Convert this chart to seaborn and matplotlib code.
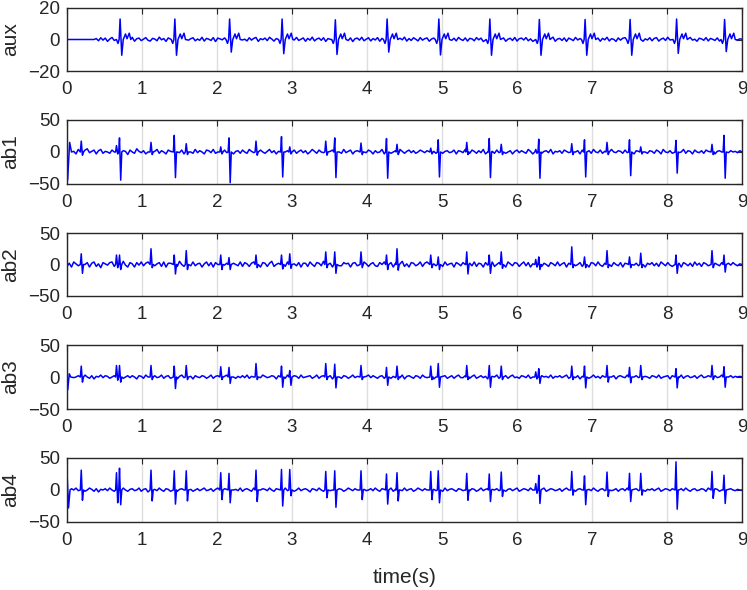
import numpy as np
import pandas as pd
import matplotlib
matplotlib.use("Agg")
import matplotlib.pyplot as plt
import seaborn as sns

# ---------------- data ----------------
channels = ["aux", "ab1", "ab2", "ab3", "ab4"]
y_limits = {"aux": 20, "ab1": 50, "ab2": 50, "ab3": 50, "ab4": 50}
x_ticks = [0, 1, 2, 3, 4, 5, 6, 7, 8, 9]

# maternal beat times (s)
maternal_t = [0.70, 1.43, 2.16, 2.86, 3.57, 4.26, 4.95, 5.63, 6.29, 6.90, 7.50, 8.12, 8.76]
# fetal beat times (s)
fetal_t = [0.19, 0.66, 1.12, 1.59, 2.05, 2.52, 2.97, 3.45, 3.92, 4.40, 4.85, 5.33, 5.79,
           6.25, 6.73, 7.20, 7.65, 8.60]

aux_m_up = [13, 13, 13, 13, 12.5, 13, 13, 13, 12.7, 12.7, 12.7, 13, 12.7]
aux_m_dn = [-10, -10, -8, -9, -9.5, -8, -9.8, -10, -10, -10, -10, -8.8, -7.7]
ab1_m_up = [22, 26, 22, 24, 22, 21, 19, 21, 20, 19, 19, 18, 26]
ab1_m_dn = [-44, -40, -48, -39, -40, -41, -39, -40, -41, -39, -37, -33, -41]
ab2_m_up = [15, 15, 11, 15, 20, 15, 12, 15, 12, 12, 12, 15, 15]
ab2_m_dn = [-8, -15, -8, -7, -14, -8, -8, -14, -8, -5, -5, -14, -12]
ab3_m_up = [18, 17, 15, 17, 20, 15, 21, 18, 13, 17, 15, 13, 16]
ab3_m_dn = [-8, -18, -10, -16, -17, -13, -16, -16, -10, -17, -9, -17, -16]
ab4_m_up = [34, 30, 26, 32, 30, 25, 30, 25, 23, 22, 26, 44, 23]
ab4_m_dn = [-23, -22, -20, -25, -27, -22, -20, -18, -21, -23, -18, -30, -21]

ab1_f_up = [17, 10, 15, 13, 8, 17, 8, 17, 14, 12, 6, 15, 12, 4, 13, 15, 8, 12]
ab1_f_dn = [-5, -3, -4, -4, -3, -5, -3, -5, -4, -4, -3, -4, -4, -2, -4, -4, -3, -4]
ab2_f_up = [17, 15, 25, 22, 15, 15, 17, 20, 20, 25, 15, 20, 20, 8, 28, 22, 18, 22]
ab2_f_dn = [-14, -5, -5, -8, -8, -5, -6, -5, -5, -9, -5, -15, -6, -4, -5, -5, -5, -5]
ab3_f_up = [17, 18, 18, 18, 16, 21, 10, 21, 18, 17, 17, 18, 17, 8, 17, 18, 18, 18]
ab3_f_dn = [-8, -5, -4, -4, -4, -4, -13, -4, -4, -4, -4, -4, -4, -3, -4, -8, -4, -4]
ab4_f_up = [31, 27, 31, 30, 27, 31, 32, 29, 30, 27, 29, 26, 28, 10, 29, 28, 26, 29]
ab4_f_dn = [-16, -20, -17, -17, -15, -18, -9, -12, -15, -17, -15, -16, -10, -5, -8, -10, -8, -13]

# onset transients at t = 0
ab1_start_t = [0.0, 0.008, 0.035, 0.06]
ab1_start_v = [0, -44, 15, 0]
ab3_start_t = [0.0, 0.01, 0.03, 0.05]
ab3_start_v = [-2, -20, 5, 0]
ab4_start_t = [0.0, 0.02, 0.04]
ab4_start_v = [28, -28, 0]

# baseline wiggle (equally spaced over 0..9 s)
aux_base = [0, 0, 0, 0, 0, 0, 0, 0, 0, 0, 0, 0, 0, 0.6, -0.8, 1.1, -0.4, 0.9, -1.2, 0.3,
            1.3, -0.6, 0.4, -1.0, 1.2, 0.2, -0.9, 0.8, -0.3, 1.4, -1.1, 0.5, 0.9, -0.7, 0.2, 1.2, -0.5, -1.0, 0.7, 0.3,
            -0.8, 1.5, -0.2, 0.6, -1.2, 1.0, 0.4, -0.6, 1.3, -0.9, 0.1, 0.8, -1.1, 1.2, -0.4, 0.5, 1.1, -0.8, 0.3, -0.5,
            1.4, -1.0, 0.7, 0.2, -0.6, 1.2, -1.3, 0.9, 0.4, -0.2, 1.0, -0.8, 1.3, -0.5, 0.6, -1.1, 0.8, 1.5, -0.3, 0.2,
            -0.9, 1.1, -0.4, 0.7, 1.3, -1.2, 0.5, -0.1, 0.9, -0.7, 1.4, 0.3, -1.0, 0.6, -0.5, 1.2, -0.8, 0.4, 1.0, -1.2,
            0.8, -0.3, 1.3, -0.6, 0.2, 1.0, -1.1, 0.7, -0.4, 1.5, -0.9, 0.3, 0.9, -0.5, 1.1, -1.2, 0.6, 0.1, -0.7, 1.3,
            -0.2, 0.8, -1.0, 1.2, 0.4, -0.6, 1.0, -1.3, 0.5, 0.9, -0.4, 1.4, -0.8, 0.2, 1.1, -0.9, 0.6, -0.3, 1.2, -1.1,
            0.7, 0.3, -0.8, 1.3, -0.5, 1.0, -1.2, 0.4, 0.8, -0.2, 1.5, -1.0, 0.6, -0.6, 1.1, 0.2, -0.9, 1.2, -0.4, 0.5,
            1.0, -1.1, 0.3, 0.9, -0.7, 1.4, -0.3, 0.6, -1.2, 1.1, 0.5, -0.5, 0.8, -0.9, 1.3, 0.1, -0.6, 1.0, -1.0, 0.7,
            0.4, -0.8, 1.2, -0.2, 0.9, -1.3, 0.6, 1.1, -0.5, 0.3, -0.9, 1.4, -0.4, 0.7, 1.0, -1.1, 0.2, 0.8, -0.6, 1.3,
            -1.0, 0.5, 0.9, -0.3, 1.2, -0.8, 0.4, -1.2, 1.1, 0.6, -0.5, 1.3, -0.9, 0.2, 0.8, -0.4, 1.5, -1.1, 0.3, 0.7,
            -0.6, 1.0, -1.2, 0.9, 0.2, -0.7, 1.3, -0.3, 0.6, -1.0, 1.1, 0.4, -0.8, 1.2, -0.5, 0.3, 0.9, -1.1, 0.7, -0.2,
            1.4, -0.9, 0.5, 0.1, -1.2, 1.0, -0.4, 0.8, 1.2, -0.7, 0.3, -1.0, 1.3, -0.5, 0.6, 0.9, -1.1, 0.4, -0.3, 1.1,
            -0.8, 0.7, 1.2, -1.0, 0.2, 0.9, -0.6, 1.4, -0.3, 0.5, -1.2, 1.0, 0.3, -0.7, 1.1, -0.9, 0.6, 1.3, -0.4, 0.2,
            -1.1, 0.8, 0.4, -0.5, 1.2, -0.9, 0.7, 0.1, -0.6, 1.0, -1.0, 0.5, 1.1, -0.4, 0.3, -0.8, 1.2, 0.6, -0.3, 0.4, 0.2]
ab1_base = [2, -2, 3, 1, -3, 4, 0, -2, 3, 5, -1, 1, 3, -3, 2, 4, -2, 1, 0, -2,
            3, 0, -3, 4, -1, 2, 1, -4, 3, 0, -2, 5, 1, -1, 2, -3, 0, 3, -2, 1,
            4, -2, 2, 0, -3, 3, 1, -2, 4, 0, -1, 3, -3, 1, 2, 0, -2, 4, -1, 2,
            0, -3, 3, 2, -1, 4, -2, 0, 2, -2, 3, -1, 1, 4, -3, 1, 2, -2, 3, 0,
            -2, 4, 1, -1, 2, -4, 3, 0, -2, 1, 4, -1, 2, -3, 1, 3, -2, 0, 2, 1,
            -1, 3, -2, 1, 3, -1, 2, -3, 0, 4, 1, -2, 3, 0, -1, 2, -4, 1, 3, -2,
            2, 0, -2, 4, -1, 1, 3, -3, 1, 2, -2, 4, 0, -1, 3, 1, -3, 2, -1, 0,
            4, -3, 1, 3, -2, 0, 2, -3, 4, 1, -2, 1, 3, -1, 2, -2, 0, 3, 1, -1,
            2, -3, 3, 1, -2, 0, 4, -2, 1, 2, -1, 0, 3, -3, 2, 1, -1, 4, 0, -2,
            3, 1, -2, 2, -1, 4, -3, 0, 2, 1, -2, 3, -1, 1, 4, -2, 0, 2, -3, 1,
            3, -1, 2, 0, -2, 4, 1, -3, 2, 0, 3, -2, 1, 2, -1, 4, -3, 1, 0, 2,
            -2, 3, 1, -1, 4, -2, 0, 2, -3, 3, 1, -1, 2, -2, 4, 0, -1, 3, -2, 1,
            2, -3, 4, 0, -1, 2, 1, -2, 3, -1, 0, 4, -3, 2, 1, -1, 3, 0, -2, 2,
            1, -2, 3, 1, -3, 4, 0, -1, 2, -2, 3, 1, -1, 0, 4, -2, 2, 1, -3, 3,
            0, -1, 2, -2, 3, 1, -1, 4, -3, 1, 2, 0, -2, 3, -1, 2, 0, 1, -1, 2, 0]
ab2_base = [-3, 2, -4, 4, 1, -2, 5, -2, 0, 3, -4, 2, 4, -3, 1, -5, 3, 1, -1, 3,
            4, -3, 0, 3, -2, 5, -1, -4, 3, 1, -4, 3, -1, 4, -2, 2, 4, -3, 2, -2,
            1, 3, -3, 4, -4, 2, 2, -2, 3, -3, 5, 0, -3, 2, 3, -2, 4, -2, 1, 2,
            -4, 1, 4, -2, 3, -4, 3, 0, -3, 5, -1, 2, 3, -4, 2, 0, -2, 4, -3, 3,
            1, -3, 2, 4, -2, 1, -4, 3, 2, -3, 2, 5, -3, 0, 2, -2, 3, -3, 4, -4,
            2, 1, -2, 3, -4, 2, 2, -3, 4, 0, -3, 3, 2, -2, 5, -2, 1, 2, -4, 1,
            4, -2, -2, 3, 1, 2, -4, 2, 3, -2, 2, -3, 4, 1, -3, 1, 3, -2, -3, 3,
            0, 4, -3, 1, 3, -4, 2, -1, 1, 5, -3, 1, -4, 3, 2, -2, 0, 4, -3, 2,
            4, -3, 2, 1, -2, 3, 2, -3, 4, -1, 1, 2, -4, 3, 1, -2, 3, 0, -3, 2,
            -2, 4, -3, 2, 1, -4, 3, -1, 2, 4, -3, 0, 3, -2, 2, -4, 4, 1, -2, 3,
            2, -3, 1, 4, -2, 3, -4, 1, 2, -1, 5, -3, 2, 0, -3, 3, 1, -2, 4, -2,
            1, 3, -4, 2, -1, 4, -2, 0, 3, -3, 2, 1, -4, 3, 2, -2, 4, -1, -3, 2,
            -1, 4, -3, 3, 0, -2, 3, -4, 2, 1, -3, 4, -1, 2, -2, 3, 1, -4, 2, 0,
            3, -2, 2, -3, 4, 1, -2, 3, -1, -3, 4, 0, 2, -4, 3, 1, -2, 2, -3, 4,
            -1, 2, -3, 3, 1, -2, 4, -3, 2, 0, -2, 3, 1, -4, 2, -1, 3, 0, -2, 1, 0]
ab3_base = [-2, 1, 3, -1, 0, 2, -3, 1, 3, 0, -2, 2, -3, 1, 0, 3, -1, 2, 1, -2,
            0, 2, -2, 1, 3, -2, 0, 2, -1, 2, 0, -3, 2, 1, -2, 3, 0, -2, 1, 2,
            -1, 0, 3, -2, 1, 2, -2, 0, 2, -3, 1, 3, -1, 0, 2, 1, -3, 2, 0, -1,
            2, 1, -2, 0, 3, -2, 1, 2, -3, 0, 1, 3, -1, 2, 0, -2, 1, -1, 2, -1,
            3, -2, 1, 0, 2, -2, -1, 3, 1, -1, 0, 2, 1, -3, 2, 0, 1, -2, 3, -2,
            0, 2, 1, -2, 3, -1, 0, 1, 2, -2, 0, 3, -2, 1, 2, -1, 0, 2, -3, 1,
            3, 0, -2, 2, 1, -2, 0, 3, -1, 1, 2, -3, 0, 1, 3, -1, 2, 0, -2, 1,
            2, -2, 0, 3, -2, 1, -1, 2, -1, 3, -3, 1, 2, 0, -2, 2, 1, -2, 3, 0,
            -1, 2, 1, -3, 0, 3, -1, 1, 2, -2, 0, 2, -2, 1, 3, -1, -1, 2, 1, -2,
            1, 3, -2, 0, 2, -1, 1, -3, 2, 1, 0, 3, -2, 0, 1, 2, -2, 1, 3, -1,
            0, -2, 2, 1, -1, 3, -2, 0, 2, 1, -3, 2, 0, 1, -1, 3, -2, 1, 0, 2,
            -1, 1, 3, -2, 0, 2, -1, 2, -3, 1, 1, 2, -2, 0, 3, -1, 1, -2, 2, 0,
            3, -1, 0, 2, -3, 1, 2, 0, -1, 3, -2, 1, 0, 2, -1, -2, 3, 1, 0, -2,
            2, 1, -1, 3, -2, 0, 1, 2, -3, 2, 0, 1, -1, 3, -2, 1, 2, -1, 0, 2,
            -2, 1, 3, -1, 0, 2, -2, 1, 2, -1, 0, 3, -2, 1, 0, 2, -1, 1, 0, 1, 0]
ab4_base = [1, -2, 2, 0, 3, -1, 1, 2, -2, 0, 3, 1, -2, 2, -3, 1, 0, 2, -1, 3,
            0, -2, 2, 1, -1, 3, 0, -2, 1, 2, -1, 0, 3, -2, 1, 2, -3, 0, 2, 1,
            -1, 3, 0, -2, 2, 1, -2, 0, 3, -2, 1, 2, 0, -1, 3, 1, -2, 0, 2, -1,
            1, 3, -1, 0, 2, -2, 1, 3, 0, -2, 2, 1, -3, 2, 0, 1, -1, 3, -2, 1,
            2, 0, -2, 3, 1, -2, 0, 2, 1, -1, 3, 0, -2, 2, 1, -1, 0, 3, -1, 2,
            1, -2, 0, 3, -1, 1, 2, 0, -3, 2, 1, -1, 3, 0, -2, 1, 2, -1, 0, 3,
            -1, 2, 1, -2, 0, 3, 1, -1, 2, 0, -2, 3, 1, -1, 0, 2, -1, 3, 0, -2,
            2, 1, -1, 0, 3, -2, 1, 2, 0, -1, 3, -1, 1, 2, -2, 0, 3, 1, -1, 2,
            0, -2, 3, 1, -1, 2, 0, -2, 3, -1, 1, 2, 0, -2, 2, 1, -1, 0, 3, -1,
            2, 1, -2, 0, 3, -1, 1, 2, -3, 1, 0, 2, -1, 3, 0, -2, 1, 2, -1, 1,
            3, -2, 0, 2, 1, -1, 3, 0, -2, 2, -1, 1, 3, -2, 0, 2, 1, -1, 0, 2,
            -2, 1, 3, 0, -1, 2, -2, 1, 2, 0, -3, 2, 1, -1, 3, 0, -2, 1, 2, -1,
            1, 3, -1, 0, 2, -2, 1, 2, -1, 3, 0, -2, 1, 2, -1, 0, 3, -2, 1, 0,
            2, -1, 1, 3, -2, 0, 2, 1, -1, 2, -3, 1, 0, 2, -1, 3, 0, -2, 1, 2,
            -1, 0, 2, 1, -2, 3, 0, -1, 2, 1, -2, 0, 3, -1, 1, 2, 0, -1, 1, 0, 0]

# ---------------- assemble series ----------------
def spike_pts(t, up, dn):
    return [(t - 0.012, 0.0), (t, up), (t + 0.016, dn), (t + 0.03, 0.0)], (t - 0.02, t + 0.038)

def aux_pts(t, up, dn):
    pts = [(t - 0.04, 0.0), (t - 0.02, -2.5), (t - 0.005, 0.0), (t + 0.008, up),
           (t + 0.03, dn), (t + 0.05, 0.0), (t + 0.08, 3.5), (t + 0.10, 0.5),
           (t + 0.13, 4.0), (t + 0.15, 0.0)]
    return pts, (t - 0.05, t + 0.16)

def build(base, events, start=None):
    tb = np.linspace(0, 9, len(base))
    vb = np.asarray(base, dtype=float)
    keep = np.ones(len(tb), bool)
    pts = []
    for p, (a, b) in events:
        keep &= ~((tb >= a) & (tb <= b))
        pts += p
    if start is not None:
        st, sv = start
        keep &= tb > max(st) + 0.01
        pts += list(zip(st, sv))
    pts += list(zip(tb[keep], vb[keep]))
    df = pd.DataFrame(pts, columns=["t", "v"])
    df = df[(df.t >= 0) & (df.t <= 9)].sort_values("t")
    return df

series = {}
series["aux"] = build(aux_base, [aux_pts(t, u, d) for t, u, d in zip(maternal_t, aux_m_up, aux_m_dn)])
series["ab1"] = build(ab1_base,
                      [spike_pts(t, u, d) for t, u, d in zip(maternal_t, ab1_m_up, ab1_m_dn)] +
                      [spike_pts(t, u, d) for t, u, d in zip(fetal_t, ab1_f_up, ab1_f_dn)],
                      (ab1_start_t, ab1_start_v))
series["ab2"] = build(ab2_base,
                      [spike_pts(t, u, d) for t, u, d in zip(maternal_t, ab2_m_up, ab2_m_dn)] +
                      [spike_pts(t, u, d) for t, u, d in zip(fetal_t, ab2_f_up, ab2_f_dn)])
series["ab3"] = build(ab3_base,
                      [spike_pts(t, u, d) for t, u, d in zip(maternal_t, ab3_m_up, ab3_m_dn)] +
                      [spike_pts(t, u, d) for t, u, d in zip(fetal_t, ab3_f_up, ab3_f_dn)],
                      (ab3_start_t, ab3_start_v))
series["ab4"] = build(ab4_base,
                      [spike_pts(t, u, d) for t, u, d in zip(maternal_t, ab4_m_up, ab4_m_dn)] +
                      [spike_pts(t, u, d) for t, u, d in zip(fetal_t, ab4_f_up, ab4_f_dn)],
                      (ab4_start_t, ab4_start_v))

# ---------------- draw ----------------
sns.set_style("white")
plt.rcParams["font.family"] = ["Liberation Sans", "DejaVu Sans"]
dark = "#262626"

fig = plt.figure(figsize=(7.47, 5.90), dpi=100)
W, H = 747.0, 590.0
panel_px = {"aux": (8, 71), "ab1": (120, 184), "ab2": (233, 296), "ab3": (345, 409), "ab4": (458, 522)}
left, right = 67, 742

for i, name in enumerate(channels):
    top, bot = panel_px[name]
    ax = fig.add_axes([left / W, 1 - bot / H, (right - left) / W, (bot - top) / H])
    sns.lineplot(data=series[name], x="t", y="v", ax=ax, color="#0000ff", lw=1.1,
                 estimator=None, sort=False)
    lim = y_limits[name]
    ax.set_xlim(0, 9)
    ax.set_ylim(-lim, lim)
    ax.set_xticks(x_ticks)
    ax.set_yticks([-lim, 0, lim])
    ax.xaxis.grid(True, color="#dedede", lw=1.0)
    ax.yaxis.grid(False)
    ax.set_axisbelow(True)
    for s in ax.spines.values():
        s.set_color(dark)
        s.set_linewidth(1.0)
    ax.tick_params(axis="both", direction="in", top=True, right=True, length=4, width=0.8,
                   color=dark, labelcolor=dark, labelsize=13.5)
    ax.tick_params(axis="x", pad=7)
    ax.tick_params(axis="y", pad=5)
    ax.set_ylabel(name, fontsize=15, color=dark)
    ax.yaxis.set_label_coords(-0.07, 0.5)
    if i == len(channels) - 1:
        ax.set_xlabel("time(s)", fontsize=15, color=dark)
        ax.xaxis.set_label_coords(0.5, -0.72)
    else:
        ax.set_xlabel("")

fig.savefig("out.png", dpi=100)
